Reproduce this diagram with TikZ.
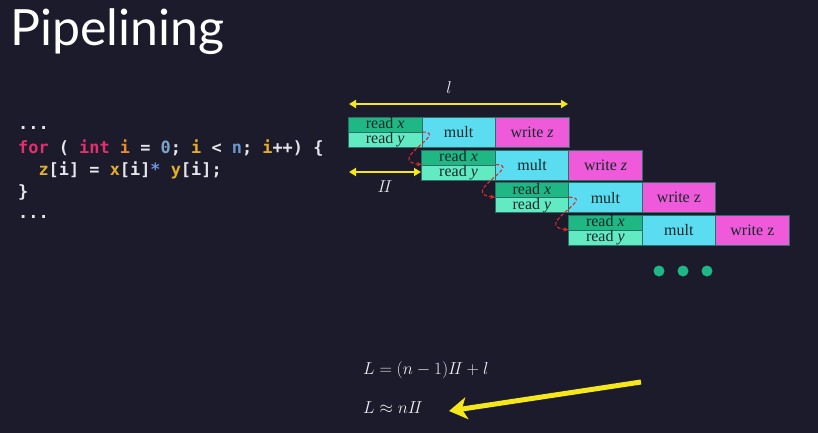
\documentclass[tikz,border=0pt]{standalone}
\usepackage{fontspec}
\setmainfont{Liberation Serif}
\setsansfont{Lato}
\setmonofont{DejaVu Sans Mono}
\usetikzlibrary{arrows.meta}

\definecolor{bg}{HTML}{1C1B2B}
\definecolor{rdx}{HTML}{1FB784}
\definecolor{rdy}{HTML}{62EAC2}
\definecolor{mlt}{HTML}{5ADDF0}
\definecolor{wrt}{HTML}{EE5AD9}
\definecolor{edge}{HTML}{2B6F68}
\definecolor{ink}{HTML}{17282A}
\definecolor{hilite}{HTML}{F4E81C}
\definecolor{dep}{HTML}{E02A2A}
\definecolor{kw}{HTML}{E0306E}
\definecolor{var}{HTML}{E4AE2A}
\definecolor{ivar}{HTML}{E88A2E}
\definecolor{num}{HTML}{7FA3C8}
\definecolor{nvar}{HTML}{6A98CC}
\definecolor{op}{HTML}{6F8FE0}
\definecolor{plain}{HTML}{E6E6EA}
\definecolor{formula}{HTML}{EEEEF2}

\tikzset{
  cell/.style={draw=edge, line width=0.8pt, inner sep=0pt, anchor=north west,
    text=ink, font=\fontsize{16}{16}\selectfont},
  halfcell/.style={cell, minimum width=73.5pt, minimum height=15pt, text height=10pt, text depth=2pt},
  fullcell/.style={cell, minimum width=73.5pt, minimum height=30pt},
  codeline/.style={anchor=base west, inner sep=0pt, text=plain,
    font=\fontsize{16.9}{18}\selectfont\ttfamily\bfseries},
  depend/.style={dep, line width=1.1pt, dash pattern=on 3.5pt off 2pt,
    -{Stealth[length=4.5pt,width=4.5pt]}},
  span/.style={hilite, line width=2pt, {Triangle[length=7pt,width=8pt]}-{Triangle[length=7pt,width=8pt]}},
  dot/.style={circle, fill=rdx, minimum size=11pt, inner sep=0pt},
  math/.style={anchor=base west, inner sep=0pt, text=formula, font=\fontsize{18.4}{18}\selectfont}
}

\begin{document}
\begin{tikzpicture}[x=1pt, y=-1pt]
  \fill[bg] (0,0) rectangle (818,433);
  \useasboundingbox (0,0) rectangle (818,433);

  % title
  \node[anchor=base west, inner sep=0pt, text=white,
        font=\fontsize{50}{50}\selectfont\sffamily] (title) at (10,46) {Pipelining};

  % source loop
  \node[codeline] (c1) at (18,129) {...};
  \node[codeline] (c2) at (18,153) {\textcolor{kw}{for} ( \textcolor{kw}{int} \textcolor{ivar}{i} = \textcolor{num}{0}; \textcolor{var}{i} < \textcolor{nvar}{n}; \textcolor{var}{i}++) \{};
  \node[codeline] (c3) at (18,175) {\ \ \textcolor{var}{z}[i] = \textcolor{var}{x}[i]\textcolor{op}{*} \textcolor{var}{y}[i];};
  \node[codeline] (c4) at (18,197) {\}};
  \node[codeline] (c5) at (18,218) {...};

  % pipelined iterations
  \foreach \k/\zz in {0/\textit{z}, 1/\textit{z}, 2/z, 3/z} {
    \pgfmathsetmacro{\xo}{348+73.4*\k}
    \pgfmathsetmacro{\yo}{117+32.6*\k}
    \node[halfcell, fill=rdx] (rx\k) at (\xo,\yo) {read \textit{x}};
    \node[halfcell, fill=rdy] (ry\k) at (\xo,\yo+15) {read \textit{y}};
    \node[fullcell, fill=mlt] (m\k) at (\xo+73.5,\yo) {mult};
    \node[fullcell, fill=wrt] (w\k) at (\xo+147,\yo) {write \zz};
  }

  % dependencies between consecutive iterations
  \foreach \a/\b in {0/1, 1/2, 2/3} {
    \draw[depend] (ry\a.north east) .. controls +(28,0) and +(-36,-4) .. (ry\b.north west);
  }

  % latency l and initiation interval II
  \coordinate (la) at (349,104);
  \coordinate (lb) at (568,104);
  \draw[span] (la) -- (lb);
  \node[text=plain, font=\fontsize{17}{17}\selectfont] (ltxt) at (449,88) {$l$};

  \coordinate (ia) at (349,172);
  \coordinate (ib) at (421,172);
  \draw[span] (ia) -- (ib);
  \node[text=plain, font=\fontsize{17}{17}\selectfont] (itxt) at (385,187) {$I\!I$};

  % more iterations follow
  \node[dot] (d1) at (659,271) {};
  \node[dot] (d2) at (683,271) {};
  \node[dot] (d3) at (707,271) {};

  % total latency
  \node[math] (f1) at (363,374) {$L = (n-1)I\!I + l$};
  \node[math] (f2) at (363,413) {$L \approx nI\!I$};
  \coordinate (pa) at (641,382);
  \coordinate (pb) at (449,411);
  \draw[hilite, line width=5pt, -{Stealth[length=18pt,width=22pt,inset=5pt]}] (pa) -- (pb);
\end{tikzpicture}
\end{document}
